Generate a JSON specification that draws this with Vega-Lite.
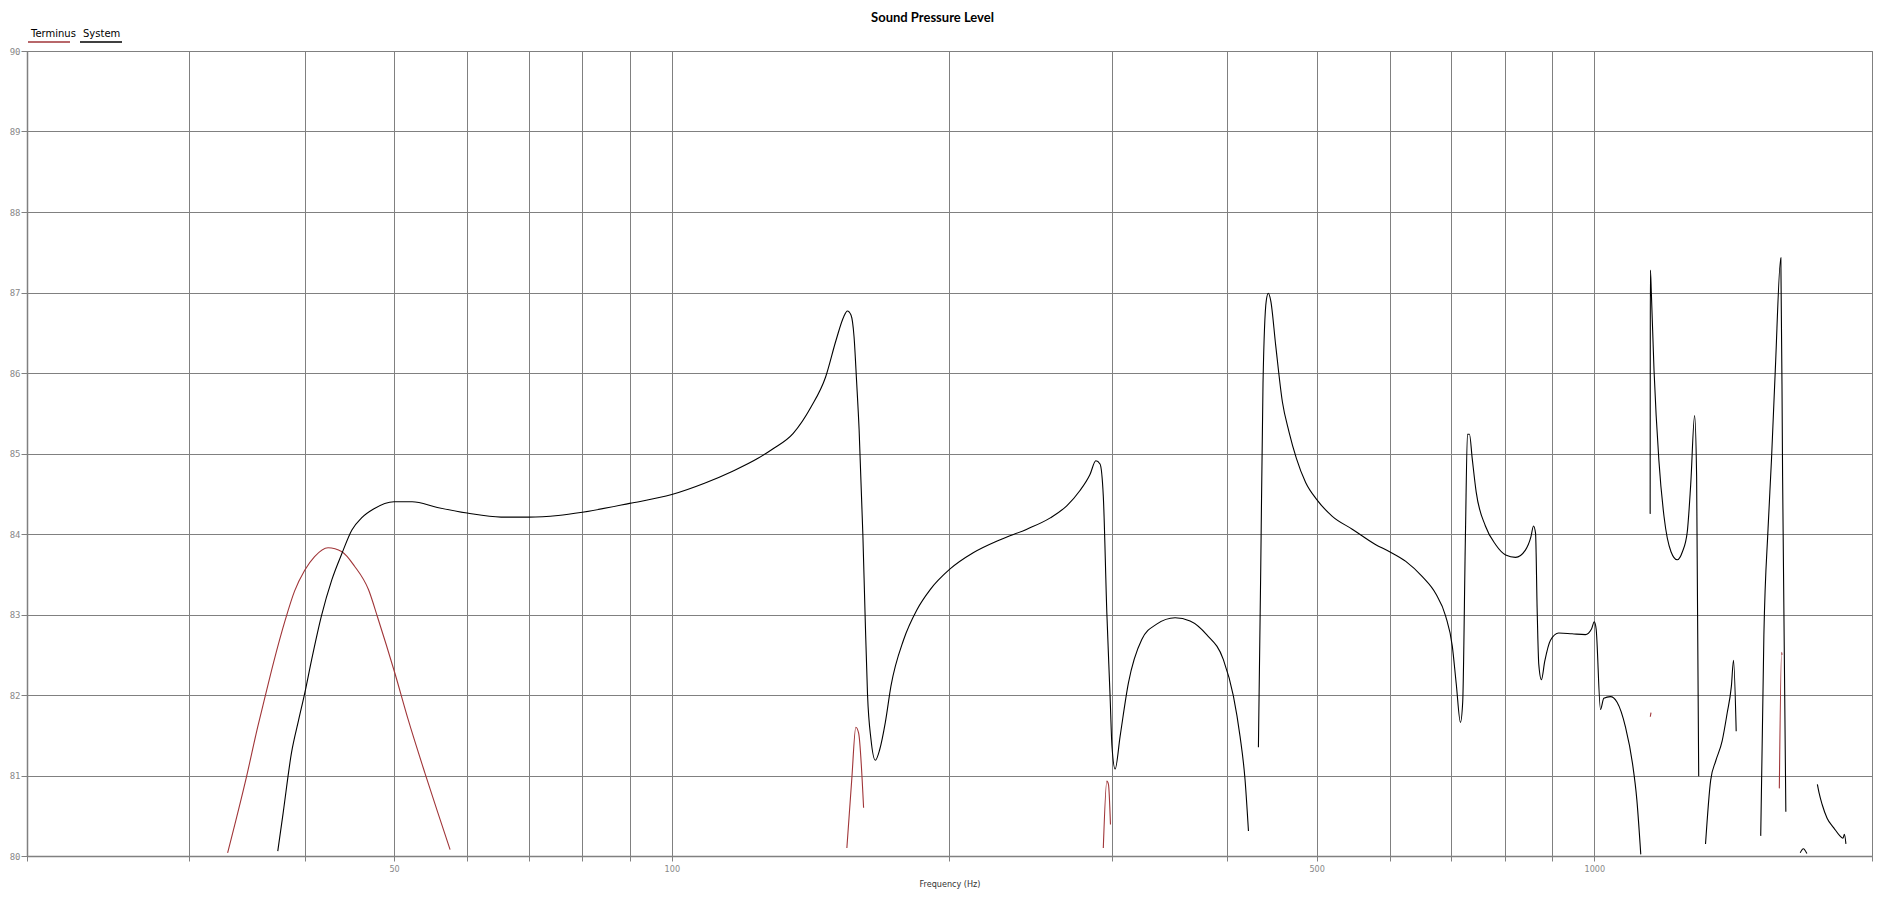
{
  "$schema": "https://vega.github.io/schema/vega-lite/v6.json",
  "autosize": {"type": "none"},
  "padding": {"left": 27, "top": 51, "right": 15, "bottom": 48},
  "width": 1845,
  "height": 805,
  "background": "#ffffff",
  "title": {
    "text": "Sound Pressure Level",
    "font": "Lato",
    "fontSize": 13,
    "fontWeight": "bold",
    "color": "#000000",
    "anchor": "middle",
    "dx": -17,
    "offset": -13
  },
  "config": {
    "view": {"stroke": "#808080", "strokeWidth": 1},
    "axis": {
      "gridColor": "#808080",
      "gridOpacity": 1,
      "gridWidth": 1,
      "domainColor": "#808080",
      "domainWidth": 1.5,
      "tickColor": "#808080"
    }
  },
  "datasets": {
    "curves": [
      {"series": "Terminus", "seg": "T1", "f": 33.0, "spl": 80.04},
      {"series": "Terminus", "seg": "T1", "f": 34.6, "spl": 80.99},
      {"series": "Terminus", "seg": "T1", "f": 35.6, "spl": 81.62},
      {"series": "Terminus", "seg": "T1", "f": 36.2, "spl": 81.96},
      {"series": "Terminus", "seg": "T1", "f": 37.0, "spl": 82.4},
      {"series": "Terminus", "seg": "T1", "f": 38.1, "spl": 82.93},
      {"series": "Terminus", "seg": "T1", "f": 39.0, "spl": 83.29},
      {"series": "Terminus", "seg": "T1", "f": 40.0, "spl": 83.55},
      {"series": "Terminus", "seg": "T1", "f": 41.0, "spl": 83.72},
      {"series": "Terminus", "seg": "T1", "f": 42.4, "spl": 83.83},
      {"series": "Terminus", "seg": "T1", "f": 43.9, "spl": 83.78},
      {"series": "Terminus", "seg": "T1", "f": 45.3, "spl": 83.6},
      {"series": "Terminus", "seg": "T1", "f": 46.9, "spl": 83.31},
      {"series": "Terminus", "seg": "T1", "f": 48.0, "spl": 82.96},
      {"series": "Terminus", "seg": "T1", "f": 50.1, "spl": 82.27},
      {"series": "Terminus", "seg": "T1", "f": 51.8, "spl": 81.69},
      {"series": "Terminus", "seg": "T1", "f": 54.0, "spl": 81.03},
      {"series": "Terminus", "seg": "T1", "f": 55.8, "spl": 80.53},
      {"series": "Terminus", "seg": "T1", "f": 57.5, "spl": 80.08},
      {"series": "Terminus", "seg": "T2", "f": 154.8, "spl": 80.1},
      {"series": "Terminus", "seg": "T2", "f": 156.7, "spl": 80.95},
      {"series": "Terminus", "seg": "T2", "f": 158.3, "spl": 81.6},
      {"series": "Terminus", "seg": "T2", "f": 159.4, "spl": 81.53},
      {"series": "Terminus", "seg": "T2", "f": 161.4, "spl": 80.6},
      {"series": "Terminus", "seg": "T3", "f": 293.6, "spl": 80.1},
      {"series": "Terminus", "seg": "T3", "f": 296.2, "spl": 80.93},
      {"series": "Terminus", "seg": "T3", "f": 297.4, "spl": 80.89},
      {"series": "Terminus", "seg": "T3", "f": 298.9, "spl": 80.39},
      {"series": "Terminus", "seg": "T4", "f": 1150, "spl": 81.73},
      {"series": "Terminus", "seg": "T4", "f": 1152, "spl": 81.78},
      {"series": "Terminus", "seg": "T5", "f": 1587, "spl": 80.84},
      {"series": "Terminus", "seg": "T5", "f": 1596, "spl": 82.53},
      {"series": "Terminus", "seg": "T5", "f": 1598, "spl": 82.5},

      {"series": "System", "seg": "S1", "f": 37.4, "spl": 80.06},
      {"series": "System", "seg": "S1", "f": 37.9, "spl": 80.53},
      {"series": "System", "seg": "S1", "f": 38.7, "spl": 81.28},
      {"series": "System", "seg": "S1", "f": 39.4, "spl": 81.69},
      {"series": "System", "seg": "S1", "f": 40.0, "spl": 82.02},
      {"series": "System", "seg": "S1", "f": 40.7, "spl": 82.44},
      {"series": "System", "seg": "S1", "f": 41.7, "spl": 82.98},
      {"series": "System", "seg": "S1", "f": 42.8, "spl": 83.43},
      {"series": "System", "seg": "S1", "f": 43.9, "spl": 83.76},
      {"series": "System", "seg": "S1", "f": 45.0, "spl": 84.05},
      {"series": "System", "seg": "S1", "f": 46.1, "spl": 84.2},
      {"series": "System", "seg": "S1", "f": 47.5, "spl": 84.31},
      {"series": "System", "seg": "S1", "f": 50, "spl": 84.4},
      {"series": "System", "seg": "S1", "f": 52.3, "spl": 84.4},
      {"series": "System", "seg": "S1", "f": 55.7, "spl": 84.33},
      {"series": "System", "seg": "S1", "f": 60, "spl": 84.26},
      {"series": "System", "seg": "S1", "f": 65.3, "spl": 84.21},
      {"series": "System", "seg": "S1", "f": 70, "spl": 84.21},
      {"series": "System", "seg": "S1", "f": 75.3, "spl": 84.23},
      {"series": "System", "seg": "S1", "f": 80, "spl": 84.27},
      {"series": "System", "seg": "S1", "f": 90, "spl": 84.38},
      {"series": "System", "seg": "S1", "f": 100, "spl": 84.49},
      {"series": "System", "seg": "S1", "f": 108.5, "spl": 84.63},
      {"series": "System", "seg": "S1", "f": 116.4, "spl": 84.78},
      {"series": "System", "seg": "S1", "f": 124.0, "spl": 84.94},
      {"series": "System", "seg": "S1", "f": 128.4, "spl": 85.05},
      {"series": "System", "seg": "S1", "f": 135.4, "spl": 85.25},
      {"series": "System", "seg": "S1", "f": 141.6, "spl": 85.58},
      {"series": "System", "seg": "S1", "f": 146.8, "spl": 85.95},
      {"series": "System", "seg": "S1", "f": 150.7, "spl": 86.41},
      {"series": "System", "seg": "S1", "f": 153.6, "spl": 86.7},
      {"series": "System", "seg": "S1", "f": 155.0, "spl": 86.77},
      {"series": "System", "seg": "S1", "f": 156.4, "spl": 86.72},
      {"series": "System", "seg": "S1", "f": 157.6, "spl": 86.45},
      {"series": "System", "seg": "S1", "f": 158.6, "spl": 85.9},
      {"series": "System", "seg": "S1", "f": 159.6, "spl": 85.3},
      {"series": "System", "seg": "S1", "f": 161.1, "spl": 84.0},
      {"series": "System", "seg": "S1", "f": 162.0, "spl": 83.0},
      {"series": "System", "seg": "S1", "f": 163.0, "spl": 82.0},
      {"series": "System", "seg": "S1", "f": 164.4, "spl": 81.45},
      {"series": "System", "seg": "S1", "f": 166.2, "spl": 81.19},
      {"series": "System", "seg": "S1", "f": 168.0, "spl": 81.32},
      {"series": "System", "seg": "S1", "f": 170.4, "spl": 81.66},
      {"series": "System", "seg": "S1", "f": 172.8, "spl": 82.11},
      {"series": "System", "seg": "S1", "f": 178.4, "spl": 82.69},
      {"series": "System", "seg": "S1", "f": 184.4, "spl": 83.06},
      {"series": "System", "seg": "S1", "f": 190.6, "spl": 83.31},
      {"series": "System", "seg": "S1", "f": 200, "spl": 83.56},
      {"series": "System", "seg": "S1", "f": 212.4, "spl": 83.77},
      {"series": "System", "seg": "S1", "f": 227, "spl": 83.93},
      {"series": "System", "seg": "S1", "f": 242.6, "spl": 84.06},
      {"series": "System", "seg": "S1", "f": 257.2, "spl": 84.2},
      {"series": "System", "seg": "S1", "f": 268, "spl": 84.35},
      {"series": "System", "seg": "S1", "f": 277, "spl": 84.54},
      {"series": "System", "seg": "S1", "f": 284, "spl": 84.74},
      {"series": "System", "seg": "S1", "f": 288.2, "spl": 84.91},
      {"series": "System", "seg": "S1", "f": 291.2, "spl": 84.87},
      {"series": "System", "seg": "S1", "f": 293.6, "spl": 84.47},
      {"series": "System", "seg": "S1", "f": 296.2, "spl": 83.02},
      {"series": "System", "seg": "S1", "f": 298.6, "spl": 81.99},
      {"series": "System", "seg": "S1", "f": 300, "spl": 81.37},
      {"series": "System", "seg": "S1", "f": 302.4, "spl": 81.08},
      {"series": "System", "seg": "S1", "f": 306.2, "spl": 81.49},
      {"series": "System", "seg": "S1", "f": 312.6, "spl": 82.15},
      {"series": "System", "seg": "S1", "f": 323.2, "spl": 82.69},
      {"series": "System", "seg": "S1", "f": 335.4, "spl": 82.88},
      {"series": "System", "seg": "S1", "f": 351.2, "spl": 82.96},
      {"series": "System", "seg": "S1", "f": 364.6, "spl": 82.92},
      {"series": "System", "seg": "S1", "f": 380, "spl": 82.75},
      {"series": "System", "seg": "S1", "f": 396.2, "spl": 82.44},
      {"series": "System", "seg": "S1", "f": 406.2, "spl": 81.99},
      {"series": "System", "seg": "S1", "f": 413, "spl": 81.49},
      {"series": "System", "seg": "S1", "f": 418.2, "spl": 80.95},
      {"series": "System", "seg": "S1", "f": 421.8, "spl": 80.31},

      {"series": "System", "seg": "S2", "f": 432.4, "spl": 81.35},
      {"series": "System", "seg": "S2", "f": 434.9, "spl": 83.54},
      {"series": "System", "seg": "S2", "f": 437.4, "spl": 85.87},
      {"series": "System", "seg": "S2", "f": 441, "spl": 86.9},
      {"series": "System", "seg": "S2", "f": 443.2, "spl": 86.99},
      {"series": "System", "seg": "S2", "f": 445.9, "spl": 86.9},
      {"series": "System", "seg": "S2", "f": 451.5, "spl": 86.34},
      {"series": "System", "seg": "S2", "f": 459.1, "spl": 85.64},
      {"series": "System", "seg": "S2", "f": 466.7, "spl": 85.27},
      {"series": "System", "seg": "S2", "f": 475.4, "spl": 84.94},
      {"series": "System", "seg": "S2", "f": 486.5, "spl": 84.64},
      {"series": "System", "seg": "S2", "f": 500, "spl": 84.43},
      {"series": "System", "seg": "S2", "f": 520, "spl": 84.22},
      {"series": "System", "seg": "S2", "f": 546.5, "spl": 84.06},
      {"series": "System", "seg": "S2", "f": 579, "spl": 83.87},
      {"series": "System", "seg": "S2", "f": 600, "spl": 83.78},
      {"series": "System", "seg": "S2", "f": 624.7, "spl": 83.66},
      {"series": "System", "seg": "S2", "f": 651, "spl": 83.47},
      {"series": "System", "seg": "S2", "f": 673, "spl": 83.26},
      {"series": "System", "seg": "S2", "f": 690, "spl": 82.98},
      {"series": "System", "seg": "S2", "f": 701.5, "spl": 82.61},
      {"series": "System", "seg": "S2", "f": 708.5, "spl": 82.14},
      {"series": "System", "seg": "S2", "f": 716, "spl": 81.66},
      {"series": "System", "seg": "S2", "f": 720, "spl": 81.91},
      {"series": "System", "seg": "S2", "f": 725, "spl": 84.01},
      {"series": "System", "seg": "S2", "f": 728.6, "spl": 85.24},
      {"series": "System", "seg": "S2", "f": 732.3, "spl": 85.24},
      {"series": "System", "seg": "S2", "f": 737.3, "spl": 84.94},
      {"series": "System", "seg": "S2", "f": 744.7, "spl": 84.52},
      {"series": "System", "seg": "S2", "f": 762, "spl": 84.1},
      {"series": "System", "seg": "S2", "f": 781.5, "spl": 83.87},
      {"series": "System", "seg": "S2", "f": 801.5, "spl": 83.74},
      {"series": "System", "seg": "S2", "f": 821.6, "spl": 83.71},
      {"series": "System", "seg": "S2", "f": 842, "spl": 83.8},
      {"series": "System", "seg": "S2", "f": 853.5, "spl": 83.96},
      {"series": "System", "seg": "S2", "f": 859.2, "spl": 84.1},
      {"series": "System", "seg": "S2", "f": 863.6, "spl": 84.01},
      {"series": "System", "seg": "S2", "f": 867, "spl": 83.08},
      {"series": "System", "seg": "S2", "f": 870.6, "spl": 82.38},
      {"series": "System", "seg": "S2", "f": 876.3, "spl": 82.19},
      {"series": "System", "seg": "S2", "f": 883.7, "spl": 82.42},
      {"series": "System", "seg": "S2", "f": 896.4, "spl": 82.68},
      {"series": "System", "seg": "S2", "f": 915, "spl": 82.77},
      {"series": "System", "seg": "S2", "f": 946, "spl": 82.76},
      {"series": "System", "seg": "S2", "f": 978, "spl": 82.75},
      {"series": "System", "seg": "S2", "f": 993, "spl": 82.82},
      {"series": "System", "seg": "S2", "f": 1000, "spl": 82.91},
      {"series": "System", "seg": "S2", "f": 1004.6, "spl": 82.82},
      {"series": "System", "seg": "S2", "f": 1015.6, "spl": 81.82},
      {"series": "System", "seg": "S2", "f": 1024, "spl": 81.96},
      {"series": "System", "seg": "S2", "f": 1041, "spl": 81.98},
      {"series": "System", "seg": "S2", "f": 1058.5, "spl": 81.91},
      {"series": "System", "seg": "S2", "f": 1081, "spl": 81.6},
      {"series": "System", "seg": "S2", "f": 1100, "spl": 81.15},
      {"series": "System", "seg": "S2", "f": 1112, "spl": 80.7},
      {"series": "System", "seg": "S2", "f": 1123, "spl": 80.02},

      {"series": "System", "seg": "S3", "f": 1149.6, "spl": 84.25},
      {"series": "System", "seg": "S3", "f": 1150.3, "spl": 87.28},
      {"series": "System", "seg": "S3", "f": 1153, "spl": 87.0},
      {"series": "System", "seg": "S3", "f": 1160.8, "spl": 86.03},
      {"series": "System", "seg": "S3", "f": 1175, "spl": 84.91},
      {"series": "System", "seg": "S3", "f": 1190, "spl": 84.22},
      {"series": "System", "seg": "S3", "f": 1211, "spl": 83.78},
      {"series": "System", "seg": "S3", "f": 1230, "spl": 83.68},
      {"series": "System", "seg": "S3", "f": 1246, "spl": 83.78},
      {"series": "System", "seg": "S3", "f": 1261, "spl": 84.02},
      {"series": "System", "seg": "S3", "f": 1272, "spl": 84.61},
      {"series": "System", "seg": "S3", "f": 1284.5, "spl": 85.47},
      {"series": "System", "seg": "S3", "f": 1291, "spl": 84.71},
      {"series": "System", "seg": "S3", "f": 1297.7, "spl": 80.99},

      {"series": "System", "seg": "S4", "f": 1320, "spl": 80.15},
      {"series": "System", "seg": "S4", "f": 1337, "spl": 80.94},
      {"series": "System", "seg": "S4", "f": 1354, "spl": 81.18},
      {"series": "System", "seg": "S4", "f": 1376, "spl": 81.43},
      {"series": "System", "seg": "S4", "f": 1393, "spl": 81.77},
      {"series": "System", "seg": "S4", "f": 1408, "spl": 82.11},
      {"series": "System", "seg": "S4", "f": 1415.5, "spl": 82.43},
      {"series": "System", "seg": "S4", "f": 1425, "spl": 81.55},

      {"series": "System", "seg": "S5", "f": 1515, "spl": 80.25},
      {"series": "System", "seg": "S5", "f": 1527, "spl": 82.75},
      {"series": "System", "seg": "S5", "f": 1543, "spl": 84.07},
      {"series": "System", "seg": "S5", "f": 1556, "spl": 84.91},
      {"series": "System", "seg": "S5", "f": 1571, "spl": 86.03},
      {"series": "System", "seg": "S5", "f": 1593, "spl": 87.43},
      {"series": "System", "seg": "S5", "f": 1600, "spl": 84.71},
      {"series": "System", "seg": "S5", "f": 1613, "spl": 80.55},

      {"series": "System", "seg": "S6", "f": 1672, "spl": 80.04},
      {"series": "System", "seg": "S6", "f": 1685, "spl": 80.09},
      {"series": "System", "seg": "S6", "f": 1700, "spl": 80.03},

      {"series": "System", "seg": "S7", "f": 1745, "spl": 80.89},
      {"series": "System", "seg": "S7", "f": 1752, "spl": 80.79},
      {"series": "System", "seg": "S7", "f": 1766, "spl": 80.64},
      {"series": "System", "seg": "S7", "f": 1788, "spl": 80.47},
      {"series": "System", "seg": "S7", "f": 1818, "spl": 80.35},
      {"series": "System", "seg": "S7", "f": 1846, "spl": 80.25},
      {"series": "System", "seg": "S7", "f": 1860, "spl": 80.22},
      {"series": "System", "seg": "S7", "f": 1867, "spl": 80.27},
      {"series": "System", "seg": "S7", "f": 1874, "spl": 80.15}
    ]
  },
  "data": {"name": "curves"},
  "mark": {"type": "line", "strokeWidth": 1.1, "interpolate": "monotone"},
  "encoding": {
    "x": {
      "field": "f",
      "type": "quantitative",
      "scale": {"type": "log", "domain": [20, 2000], "nice": false},
      "axis": {
        "title": "Frequency (Hz)",
        "titleFont": "DejaVu Sans Condensed",
        "titleFontSize": 9,
        "titleFontWeight": "normal",
        "titleColor": "#333333",
        "titlePadding": 6,
        "values": [20, 30, 40, 50, 60, 70, 80, 90, 100, 200, 300, 400, 500, 600, 700, 800, 900, 1000, 2000],
        "labelExpr": "(datum.value == 50 || datum.value == 100 || datum.value == 500 || datum.value == 1000) ? '' + datum.value : ''",
        "labelFont": "DejaVu Sans Condensed",
        "labelFontSize": 9,
        "labelColor": "#888888",
        "labelPadding": 3,
        "tickSize": 5,
        "grid": true
      }
    },
    "y": {
      "field": "spl",
      "type": "quantitative",
      "scale": {"domain": [80, 90], "nice": false, "zero": false},
      "axis": {
        "title": null,
        "values": [80, 81, 82, 83, 84, 85, 86, 87, 88, 89, 90],
        "format": "d",
        "labelFont": "DejaVu Sans Mono",
        "labelFontSize": 9,
        "labelColor": "#888888",
        "labelPadding": 1,
        "tickSize": 6,
        "grid": true
      }
    },
    "color": {
      "field": "series",
      "type": "nominal",
      "scale": {"domain": ["Terminus", "System"], "range": ["#a03538", "#000000"]},
      "legend": {
        "title": null,
        "orient": "none",
        "legendX": 0,
        "legendY": -39,
        "direction": "horizontal",
        "padding": 0,
        "symbolType": "M -1 0.38 L 1 0.38",
        "symbolSize": 1764,
        "symbolStrokeWidth": 1.5,
        "symbolOpacity": 1,
        "labelOffset": -40,
        "labelFont": "DejaVu Sans",
        "labelFontSize": 10,
        "labelColor": "#000000",
        "columnPadding": 1
      }
    },
    "detail": {"field": "seg", "type": "nominal"}
  }
}
